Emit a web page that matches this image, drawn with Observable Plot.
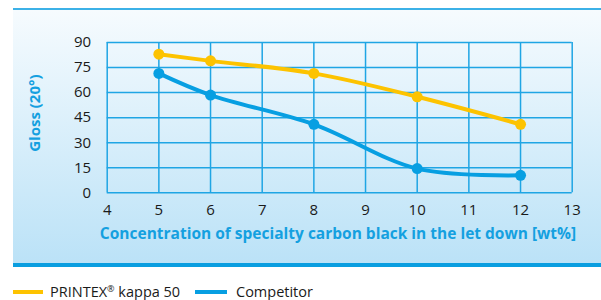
<!DOCTYPE html>
<html>
<head>
<meta charset="utf-8">
<script src="https://cdn.jsdelivr.net/npm/d3@7"></script>
<script src="https://cdn.jsdelivr.net/npm/@observablehq/plot@0.6"></script>
<style>
  body { margin: 0; background: #fff; font-family: "Open Sans", sans-serif; }
  #wrap { position: relative; width: 601px; height: 300px; overflow: hidden; }
  #panel { position: absolute; left: 13px; top: 8px; width: 588px; height: 253px;
           background: linear-gradient(#f6fbfe, #bbe2f7);
           border-top: 2px solid #3cb1e7; border-bottom: 4px solid #0a9ee0; }
  #chart { position: absolute; left: 0; top: 0; }
  .lg { position: absolute; top: 283px; height: 17px; line-height: 17px; font-size: 14.5px; color: #1a1a1a; white-space: nowrap; }
  .lg sup { font-size: 9px; line-height: 0; vertical-align: 5px; }
  .sw { position: absolute; top: 290px; height: 4px; }
</style>
</head>
<body>
<div id="wrap">
  <div id="panel"></div>
  <div id="chart"></div>
  <div class="sw" style="left:13px;width:30px;background:#fdc300"></div>
  <div class="lg" id="lg1" style="left:50px"></div>
  <div class="sw" style="left:195px;width:32px;background:#079fe2"></div>
  <div class="lg" id="lg2" style="left:236px"></div>
</div>
<script>
const concentration = [5, 6, 8, 10, 12];
const printexGloss = [83, 79, 71.5, 57.5, 41];
const competitorGloss = [71.5, 58.5, 41, 14.5, 10.5];
const seriesNames = ["PRINTEX® kappa 50", "Competitor"];
const seriesColors = ["#fdc300", "#079fe2"];
const xTicks = [4, 5, 6, 7, 8, 9, 10, 11, 12, 13];
const yTicks = [0, 15, 30, 45, 60, 75, 90];
const xTitle = "Concentration of specialty carbon black in the let down [wt%]";
const yTitle = "Gloss (20°)";

const data = [];
concentration.forEach((c, i) => {
  data.push({series: seriesNames[0], x: c, y: printexGloss[i]});
});
concentration.forEach((c, i) => {
  data.push({series: seriesNames[1], x: c, y: competitorGloss[i]});
});

const gridColor = "#1fa5e4";
const titleColor = "#14a0e0";

const chart = Plot.plot({
  width: 601,
  height: 265,
  marginLeft: 106.7,
  marginRight: 29.3,
  marginTop: 42,
  marginBottom: 72.7,
  style: { background: "transparent", fontFamily: "'Open Sans', sans-serif", fontSize: "15px", color: "#1a1a1a" },
  x: { domain: [4, 13] },
  y: { domain: [0, 90] },
  color: { domain: seriesNames, range: seriesColors },
  marks: [
    Plot.gridX(xTicks, { stroke: gridColor, strokeOpacity: 1, strokeWidth: 1.5 }),
    Plot.gridY(yTicks, { stroke: gridColor, strokeOpacity: 1, strokeWidth: 1.5 }),
    Plot.axisX(xTicks, { tickSize: 0, tickPadding: 12, label: null, fill: "#1a1a1a" }),
    Plot.axisY(yTicks, { tickSize: 0, tickPadding: 16, label: null, fill: "#1a1a1a" }),
    Plot.line(data, { x: "x", y: "y", z: "series", stroke: "series", strokeWidth: 4, curve: "catmull-rom" }),
    Plot.dot(data, { x: "x", y: "y", fill: "series", r: 5.5 }),
    Plot.text([xTitle], { text: d => d, frameAnchor: "bottom", lineAnchor: "middle", textAnchor: "middle",
      dy: 41, dx: -1.7, fill: titleColor, fontWeight: "bold", fontSize: 15.5 }),
    Plot.text([yTitle], { text: d => d, frameAnchor: "left", lineAnchor: "middle", textAnchor: "middle",
      rotate: -90, dx: -72, dy: -4.5, fill: titleColor, fontWeight: "bold", fontSize: 15 })
  ]
});
document.getElementById("chart").appendChild(chart);
function legendLabel(el, name) {
  const parts = name.split("®");
  el.textContent = "";
  parts.forEach((p, i) => {
    el.appendChild(document.createTextNode(p));
    if (i < parts.length - 1) {
      const s = document.createElement("sup");
      s.textContent = "®";
      el.appendChild(s);
    }
  });
}
legendLabel(document.getElementById("lg1"), seriesNames[0]);
legendLabel(document.getElementById("lg2"), seriesNames[1]);
</script>
</body>
</html>
